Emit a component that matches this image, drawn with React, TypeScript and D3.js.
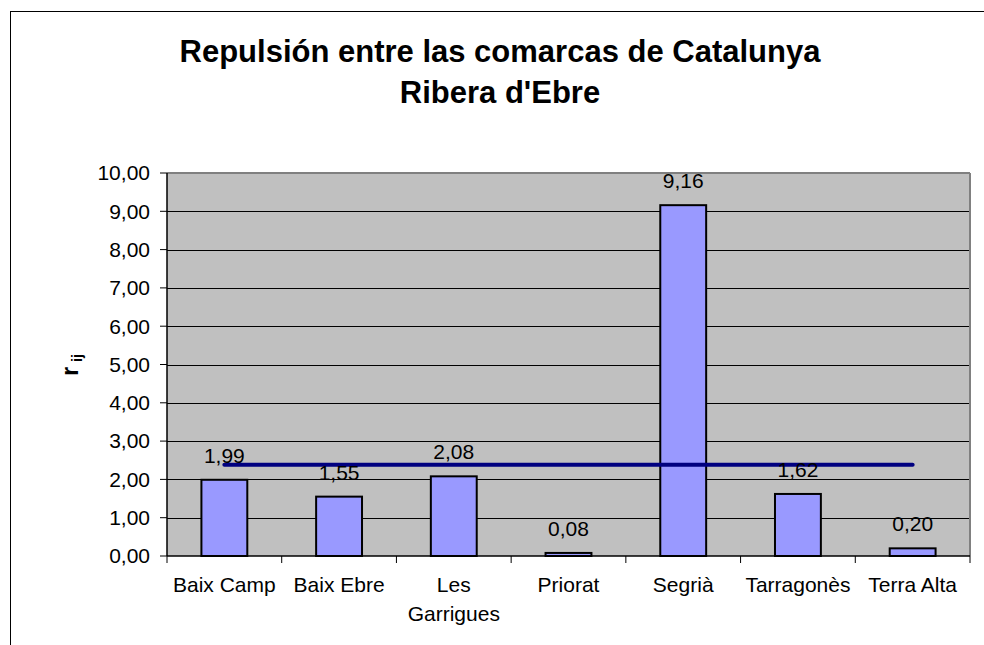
import React from "react";
import * as d3 from "d3";

const categories = ["Baix Camp", "Baix Ebre", "Les Garrigues", "Priorat", "Segrià", "Tarragonès", "Terra Alta"];
const labelLines = [["Baix Camp"], ["Baix Ebre"], ["Les", "Garrigues"], ["Priorat"], ["Segrià"], ["Tarragonès"], ["Terra Alta"]];
const values = [1.99, 1.55, 2.08, 0.08, 9.16, 1.62, 0.2];
const averageSeries = [2.38, 2.38, 2.38, 2.38, 2.38, 2.38, 2.38];
const yTicks = [0, 1, 2, 3, 4, 5, 6, 7, 8, 9, 10];
const titleLines = ["Repulsión entre las comarcas de Catalunya", "Ribera d'Ebre"];

const W = 984;
const H = 645;
const plot = { left: 167, right: 970, top: 173, bottom: 556 };
const FONT = "Arial, 'Liberation Sans', sans-serif";
const fmt = (v: number) => v.toFixed(2).replace(".", ",");

export default function App() {
  const x = d3
    .scaleBand<string>()
    .domain(categories)
    .range([plot.left, plot.right])
    .paddingInner(0.6)
    .paddingOuter(0.3);
  const y = d3.scaleLinear().domain([0, 10]).range([plot.bottom, plot.top]);
  const step = x.step();
  const boundaries = d3.range(categories.length + 1).map((i) => plot.left + i * step);
  const line = d3
    .line<number>()
    .x((_, i) => (x(categories[i]) as number) + x.bandwidth() / 2)
    .y((d) => y(d));
  const FS = 21;

  return (
    <svg
      width={W}
      height={H}
      style={{ position: "absolute", left: 0, top: 0, background: "#fff" }}
      fontFamily={FONT}
    >
      <rect x={10.5} y={11.5} width={W} height={H} fill="#fff" stroke="#000" strokeWidth={1} />
      {titleLines.map((t, i) => (
        <text
          key={i}
          x={500}
          y={62 + i * 41}
          textAnchor="middle"
          fontSize={31}
          fontWeight="bold"
          fill="#000"
        >
          {t}
        </text>
      ))}
      <rect x={plot.left} y={plot.top} width={plot.right - plot.left} height={plot.bottom - plot.top} fill="#C0C0C0" />
      {yTicks.filter((t) => t > 0 && t < 10).map((t) => (
        <line key={t} x1={plot.left} x2={plot.right} y1={Math.round(y(t)) + 0.5} y2={Math.round(y(t)) + 0.5} stroke="#000" strokeWidth={1} />
      ))}
      <line x1={plot.left} x2={plot.right} y1={plot.top} y2={plot.top} stroke="#808080" strokeWidth={2} />
      <line x1={plot.right} x2={plot.right} y1={plot.top} y2={plot.bottom} stroke="#808080" strokeWidth={2} />
      {categories.map((c, i) => (
        <rect
          key={c}
          x={x(c)}
          y={y(values[i])}
          width={x.bandwidth()}
          height={plot.bottom - y(values[i])}
          fill="#9999FF"
          stroke="#000"
          strokeWidth={2}
        />
      ))}
      <path d={line(averageSeries) || ""} fill="none" stroke="#000080" strokeWidth={4} strokeLinecap="round" />
      {categories.map((c, i) => (
        <text
          key={c}
          x={(x(c) as number) + x.bandwidth() / 2}
          y={y(values[i]) - 17}
          textAnchor="middle"
          fontSize={FS}
          fill="#000"
        >
          {fmt(values[i])}
        </text>
      ))}
      <line x1={plot.left} x2={plot.left} y1={plot.top} y2={plot.bottom} stroke="#000" strokeWidth={1.5} />
      <line x1={plot.left} x2={plot.right} y1={plot.bottom} y2={plot.bottom} stroke="#000" strokeWidth={1.5} />
      {yTicks.map((t) => (
        <g key={t}>
          <line x1={plot.left - 7} x2={plot.left} y1={y(t)} y2={y(t)} stroke="#000" strokeWidth={1} />
          <text x={150} y={y(t)} dy="0.35em" textAnchor="end" fontSize={FS} fill="#000">
            {fmt(t)}
          </text>
        </g>
      ))}
      {boundaries.map((bx, i) => (
        <line key={i} x1={bx} x2={bx} y1={plot.bottom} y2={plot.bottom + 7} stroke="#000" strokeWidth={1} />
      ))}
      {categories.map((c, i) => (
        <text key={c} textAnchor="middle" fontSize={FS} fill="#000">
          {labelLines[i].map((l, j) => (
            <tspan key={j} x={(x(c) as number) + x.bandwidth() / 2} y={592 + j * 29}>
              {l}
            </tspan>
          ))}
        </text>
      ))}
      <text transform="translate(78,365) rotate(-90)" textAnchor="middle" fontWeight="bold" fill="#000">
        <tspan fontSize={23}>r</tspan>
        <tspan fontSize={14} dx={5} dy={4}>ij</tspan>
      </text>
    </svg>
  );
}
